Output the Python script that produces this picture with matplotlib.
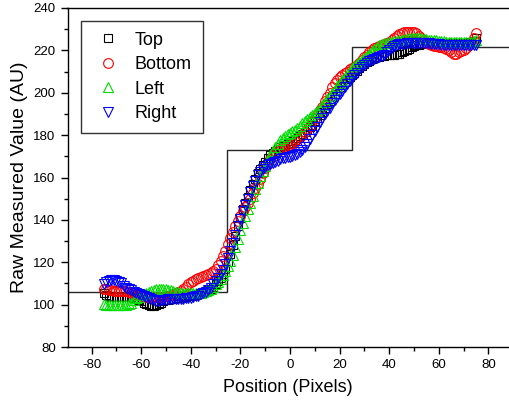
import numpy as np
import matplotlib
matplotlib.use("Agg")
import matplotlib.pyplot as plt
from matplotlib.ticker import MultipleLocator

# position along the profile (pixels), one reading per pixel
positions = list(range(-75, 76))

top = [
    105.5, 104.5, 104, 103.5, 103.5, 103.5, 103.5, 103.5, 103.5, 103.5,
    103.5, 103.5, 103, 102.5, 102, 101.5, 101, 100.5, 100, 99.5,
    99.5, 100, 100.5, 101, 101.5, 102, 102, 102.5, 102.5, 103,
    103, 103, 103.5, 103.5, 104, 104, 104.5, 104.5, 105, 105.5,
    106, 106.5, 107, 107.5, 108.5, 109.5, 111, 112.5, 114.5, 117,
    120, 124, 128, 132.5, 137, 141, 145, 148, 151, 154,
    157, 159.5, 162, 164, 166, 167.5, 169, 170.5, 171.5, 172.5,
    173.5, 174.5, 175, 175.5, 176, 176.5, 177, 177.5, 178.5, 179.5,
    180.5, 181.5, 182.5, 184, 185, 186.5, 188, 189.5, 191, 193,
    194.5, 196, 198, 199.5, 201, 202.5, 204, 205, 206.5, 207.5,
    208.5, 209.5, 210.5, 211.5, 212.5, 213.5, 214.5, 215, 216, 216.5,
    217, 217, 217.5, 217.5, 218, 218, 218, 218, 218.5, 218.5,
    219, 219.5, 220, 220.5, 221.5, 222, 222.5, 222.5, 223, 223,
    223.5, 223.5, 223.5, 223.5, 223.5, 223.5, 223.5, 223.5, 223.5, 223.5,
    223.5, 223.5, 223.5, 223.5, 223.5, 223.5, 223.5, 223.5, 224, 224.5,
    226,
]

bottom = [
    107.5, 107.5, 107, 107, 106.5, 106.5, 106.5, 106.5, 106.5, 106.5,
    106, 105.5, 105, 104.5, 104.5, 104, 104, 103.5, 103.5, 103.5,
    103.5, 103.5, 103.5, 103.5, 103.5, 104, 104, 104.5, 105, 105.5,
    106, 106.5, 107.5, 108.5, 109.5, 110.5, 111, 112, 112.5, 113,
    113.5, 114, 114.5, 115, 116, 117, 118.5, 120.5, 123, 125.5,
    128.5, 131.5, 134.5, 137, 139.5, 142, 144, 146, 148, 150,
    152.5, 155, 157, 159.5, 162, 164.5, 166.5, 168.5, 170, 171.5,
    172.5, 173.5, 174, 174.5, 175, 175.5, 176.5, 177, 178, 179,
    180, 181.5, 183, 184.5, 186.5, 188, 190, 192, 193.5, 196,
    198, 200, 202.5, 204.5, 206, 207.5, 208.5, 209.5, 210, 211,
    211.5, 212, 213, 214, 215.5, 217, 218, 219, 220, 221,
    221.5, 222, 222.5, 223, 223.5, 224, 225, 226, 227, 227.5,
    228, 228.5, 228.5, 228.5, 228.5, 228.5, 228, 227, 226, 225,
    223.5, 223, 222.5, 222, 222, 221.5, 221.5, 221, 220.5, 220,
    219, 218.5, 218.5, 219, 219.5, 220, 221, 222.5, 224, 226,
    228,
]

left = [
    100.5, 100, 100, 100, 100, 100, 100, 100, 100, 100,
    100.5, 101, 102, 103, 103.5, 104.5, 105, 105.5, 106, 106.5,
    107, 107.5, 107.5, 107.5, 107.5, 107.5, 107, 107, 106.5, 106,
    106, 105.5, 105.5, 105.5, 105.5, 105.5, 105.5, 105.5, 105.5, 105.5,
    106, 106.5, 107, 107.5, 108.5, 109.5, 110.5, 112, 114, 116,
    118, 120.5, 123.5, 127, 131, 135, 138.5, 142, 145, 148,
    151.5, 154.5, 157.5, 160.5, 163, 165.5, 168, 170.5, 172.5, 174.5,
    176, 177.5, 178.5, 179.5, 180.5, 181, 182, 182.5, 183.5, 184.5,
    185.5, 186.5, 187.5, 188.5, 189.5, 190.5, 191.5, 192.5, 194, 195.5,
    197, 198.5, 200, 201.5, 203, 204.5, 206, 207.5, 209, 210,
    211.5, 212.5, 213.5, 214.5, 215.5, 216.5, 217.5, 218.5, 219.5, 220.5,
    221.5, 222.5, 223, 223.5, 223.5, 224, 224, 224.5, 224.5, 225,
    225, 225.5, 225.5, 226, 226, 226, 226, 226, 226, 225.5,
    225.5, 225, 225, 225, 225, 224.5, 224.5, 224.5, 224, 224,
    224, 224, 224, 224, 224, 224, 224, 224, 224, 224.5,
    225,
]

right = [
    109.5, 110.5, 111, 111.5, 111.5, 111, 110.5, 110, 109, 108,
    107.5, 107, 106, 105.5, 105, 104.5, 104, 103.5, 103, 102.5,
    102, 101.5, 101.5, 102, 102, 102, 102.5, 102.5, 102.5, 102.5,
    102.5, 102.5, 102.5, 103, 103, 103, 103.5, 104, 104, 105,
    105.5, 106, 107, 108, 109.5, 111, 112.5, 114.5, 116.5, 119,
    122, 125.5, 129, 133, 137, 140.5, 144, 147, 150, 153,
    156, 158.5, 161, 162.5, 164, 165, 166, 166.5, 167, 167.5,
    168, 168.5, 169, 169, 169.5, 169.5, 170, 170.5, 171, 172,
    173, 174.5, 176, 178, 180, 182, 184, 186, 188, 190,
    191.5, 193, 195, 196.5, 198, 199.5, 201, 202.5, 204, 205.5,
    207, 208.5, 209.5, 211, 212, 213, 214, 215, 215.5, 216,
    216.5, 217, 217.5, 218, 219, 220, 221, 222, 222.5, 223,
    223, 223, 223.5, 223.5, 223.5, 223.5, 223.5, 223.5, 223.5, 223.5,
    223.5, 223.5, 223, 223, 223, 223, 222.5, 222.5, 222.5, 222.5,
    222.5, 222.5, 222.5, 222.5, 222.5, 222.5, 222.5, 222.5, 222.5, 222.5,
    222.5,
]

# ideal staircase reference
step_edges = [-100, -25.5, 25, 100]
step_levels = [106, 173, 221.5]

plt.rcParams['font.family'] = ['Liberation Sans', 'DejaVu Sans']
plt.rcParams['axes.unicode_minus'] = False

fig = plt.figure(figsize=(5.09, 4.04), dpi=100)
ax = fig.add_axes([67.5 / 509, 1 - 347 / 404, 1 - 67.5 / 509, 339 / 404])

ax.stairs(step_levels, step_edges, baseline=None, color='0.15', lw=1.0, zorder=1)

series = [
    ('Top', top, 's', 'black', 6),
    ('Bottom', bottom, 'o', 'red', 7),
    ('Left', left, '^', '#00e000', 7),
    ('Right', right, 'v', 'blue', 7),
]
for name, vals, mk, col, ms in series:
    ax.plot(positions, vals, linestyle='none', marker=mk, markersize=ms,
            markerfacecolor='none', markeredgecolor=col, markeredgewidth=0.8,
            label=name, zorder=2)

ax.set_xlim(-89.7, 88.3)
ax.set_ylim(80, 240)
ax.xaxis.set_major_locator(MultipleLocator(20))
ax.xaxis.set_minor_locator(MultipleLocator(10))
ax.yaxis.set_major_locator(MultipleLocator(20))
ax.yaxis.set_minor_locator(MultipleLocator(10))
ax.tick_params(which='major', direction='out', length=5, width=1, labelsize=9.5)
ax.tick_params(which='minor', direction='out', length=3, width=1)
ax.spines['right'].set_visible(False)
for s in ['left', 'bottom', 'top']:
    ax.spines[s].set_linewidth(1.0)

ax.set_xlabel('Position (Pixels)', fontsize=13, labelpad=6)
ax.set_ylabel('Raw Measured Value (AU)', fontsize=14, labelpad=4)

leg = ax.legend(loc='upper left', bbox_to_anchor=(0.03, 0.962), fontsize=13,
                frameon=True, fancybox=False, edgecolor='black',
                handlelength=1.8, handletextpad=0.6, labelspacing=0.41,
                borderpad=0.6, borderaxespad=0)
leg.get_frame().set_linewidth(1.0)

fig.savefig('out.png', dpi=100)
